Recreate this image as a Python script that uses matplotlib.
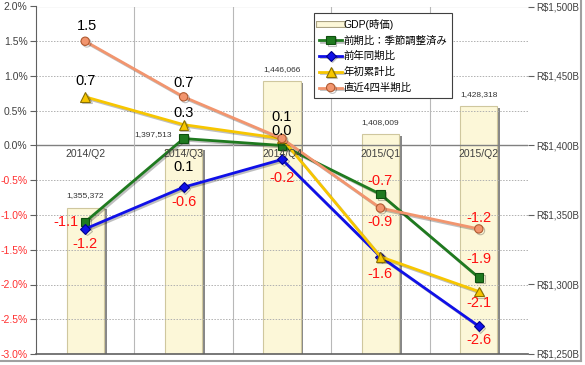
import matplotlib
matplotlib.use("Agg")
import matplotlib.pyplot as plt
import matplotlib.patheffects as pe
from matplotlib.lines import Line2D
import numpy as np

plt.rcParams['font.family'] = ['Liberation Sans', 'Noto Sans CJK JP', 'DejaVu Sans']

# ---- data ----
categories = ["2014/Q2", "2014/Q3", "2014/Q4", "2015/Q1", "2015/Q2"]
gdp = [1355372, 1397513, 1446066, 1408009, 1428318]          # GDP(時価), millions
qoq_sa = [-1.1, 0.1, 0.0, -0.7, -1.9]                          # 前期比：季節調整済み
yoy = [-1.2, -0.6, -0.2, -1.6, -2.6]                           # 前年同期比
ytd = [0.7, 0.3, 0.1, -1.6, -2.1]                              # 年初累計比
last4q = [1.5, 0.7, 0.1, -0.9, -1.2]                           # 直近4四半期比
series_names = ["前期比：季節調整済み", "前年同期比", "年初累計比", "直近4四半期比"]
bar_name = "GDP(時価)"
left_ticks = [-3.0, -2.5, -2.0, -1.5, -1.0, -0.5, 0.0, 0.5, 1.0, 1.5, 2.0]
right_ticks = [1250, 1300, 1350, 1400, 1450, 1500]

# ---- layout / styling ----
W, H = 585, 365
fig = plt.figure(figsize=(W / 100, H / 100), dpi=100)
fig.patch.set_facecolor("white")
L, R, T, B = 36, 528, 6.5, 354
ax = fig.add_axes([L / W, 1 - B / H, (R - L) / W, (B - T) / H])
ax2 = ax.twinx()
ax.set_zorder(ax2.get_zorder() + 1)
ax.patch.set_visible(False)

x = np.arange(len(categories))
ax.set_xlim(-0.5, len(categories) - 0.5)
ax.set_ylim(-3.0, 2.0)
ax2.set_ylim(1250, 1500)

# bars (right axis, in billions)
gdp_b = [v / 1000 for v in gdp]
bars = ax2.bar(x, [v - 1250 for v in gdp_b], bottom=1250, width=0.38,
               color="#FCF7D8", edgecolor="#CFC79E", linewidth=0.8, zorder=2)
for b in bars:
    b.set_path_effects([pe.SimplePatchShadow(offset=(2, -1), shadow_rgbFace="#555555", alpha=0.7),
                        pe.Normal()])
gdp_off = [(0, 8), (-31, 11), (0, 8), (0, 8), (0, 8)]
for xi, v, off in zip(x, gdp, gdp_off):
    ax2.annotate(f"{v:,}", (xi, v / 1000), xytext=off, textcoords="offset pixels",
                 ha="center", va="bottom", fontsize=6, color="#333333", zorder=3)

# grid
for yv in left_ticks:
    if yv == 0.0:
        ax.axhline(0, color="#808080", lw=1.0, zorder=1)
    elif yv != 2.0:
        ax.axhline(yv, color="#B0B0B0", lw=0.7, ls=(0, (1.5, 1.5)), zorder=1)
ax.axhline(2.0, color="#909090", lw=0.8, zorder=1)
for xv in np.arange(0.5, len(categories) - 0.5, 1):
    ax.axvline(xv, color="#B8B8B8", lw=0.8, zorder=1)

# lines
line_styles = [
    (qoq_sa, "#1F7A1F", "s", "#0E4F0E"),
    (yoy, "#1010E8", "D", "#00008B"),
    (ytd, "#F7C600", "^", "#8A7000"),
    (last4q, "#F2956E", "o", "#B05A30"),
]
handles = []
for (vals, col, mk, ec), name in zip(line_styles, series_names):
    ms = {"s": 6, "D": 5, "^": 7, "o": 6}[mk]
    ln, = ax.plot(x, vals, color=col, lw=2, marker=mk, markersize=ms,
                  markerfacecolor=col, markeredgecolor=ec, markeredgewidth=0.8, zorder=5,
                  label=name)
    ln.set_path_effects([pe.SimpleLineShadow(offset=(1.2, -1.2), alpha=0.25), pe.Normal()])
    handles.append(ln)

# value labels
label_offsets = {
    0: [(-19, 0), (0, -28), (0, 14), (0, 13), (0, 19)],
    1: [(0, -15), (0, -15), (0, -19), (0, -17), (0, -14)],
    2: [(0, 16), (0, 12), None, None, (0, -12)],
    3: [(2, 15), (0, 14), (0, 22), (0, -14), (0, 11)],
}
for si, (vals, *_rest) in enumerate(line_styles):
    for xi, v, off in zip(x, vals, label_offsets[si]):
        if off is None:
            continue
        ax.annotate(f"{v:.1f}", (xi, v), xytext=off, textcoords="offset pixels",
                    ha="center", va="center", fontsize=10.5,
                    color="black" if v >= 0 else "#FF1010", zorder=7)

# category labels inside plot below zero line
for xi, c in zip(x, categories):
    ax.text(xi, -0.05, c, ha="center", va="top", fontsize=7.5, color="#404040", zorder=6)

# axes styling
ax.set_xticks([])
ax.set_yticks(left_ticks)
ax.set_yticklabels([f"{v:.1f}%" for v in left_ticks], fontsize=7.5)
for lab, v in zip(ax.get_yticklabels(), left_ticks):
    lab.set_color("#FF3030" if v < 0 else "#404040")
ax.tick_params(axis="y", length=4, color="#606060", pad=2)
for s in ["top", "right"]:
    ax.spines[s].set_visible(False)
    ax2.spines[s].set_visible(False)
ax.spines["left"].set_color("#606060")
ax.spines["bottom"].set_color("#606060")
ax.spines["bottom"].set_linewidth(1.2)
ax2.spines["left"].set_visible(False)
ax2.spines["bottom"].set_visible(False)
ax2.set_yticks(right_ticks)
ax2.set_yticklabels([f"R${v:,}B" for v in right_ticks], fontsize=7, color="#404040")
ax2.tick_params(axis="y", length=4, color="#606060", pad=2)

# legend
bar_handle = Line2D([0], [0], color="#FCF7D8", lw=3.5,
                    path_effects=[pe.Stroke(linewidth=5, foreground="#A8A080"), pe.Normal()])
leg = ax.legend([bar_handle] + handles, [bar_name] + series_names,
                loc="upper left", bbox_to_anchor=(0.565, 0.98), fontsize=7.5,
                frameon=True, fancybox=False, edgecolor="#404040", framealpha=1,
                handlelength=2.2, handletextpad=0.1, labelspacing=0.55,
                borderpad=0.5, borderaxespad=0)
leg.get_frame().set_linewidth(0.8)
leg.set_zorder(10)

# outer frame (right/bottom shadow lines)
fig.add_artist(Line2D([581 / W, 581 / W], [1 - 361 / H, 1.0], color="#A0A0A0", lw=1.5,
                      transform=fig.transFigure))
fig.add_artist(Line2D([0, 581 / W], [1 - 361 / H, 1 - 361 / H], color="#A0A0A0", lw=1.5,
                      transform=fig.transFigure))

fig.savefig("out.png", dpi=100, facecolor="white")
